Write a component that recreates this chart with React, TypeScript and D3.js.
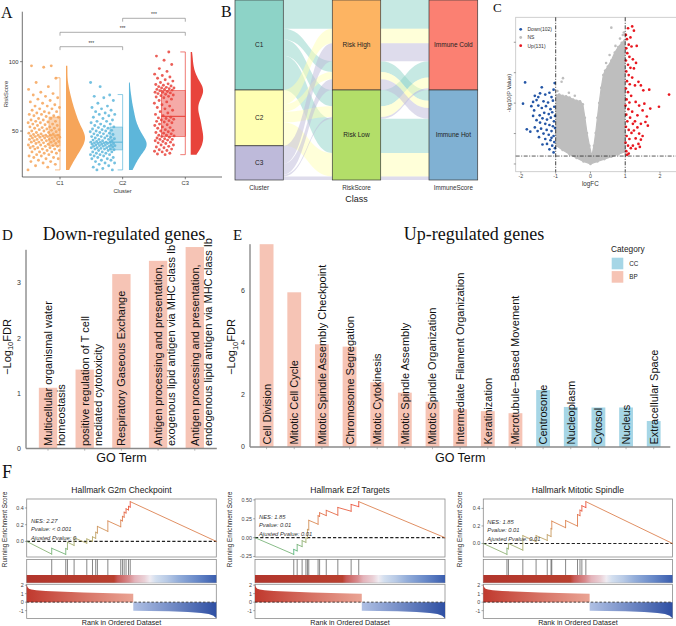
import React from 'react';
import * as d3 from 'd3';

const W = 676, H = 626;
const SANS = "'Liberation Sans', Arial, sans-serif";
const SERIF = "'Liberation Serif', 'Times New Roman', serif";

// ---------------- Panel A data ----------------
const clusters = ['C1', 'C2', 'C3'];
const riskC1 = [22, 24, 25, 26, 27, 28, 28, 29, 30, 30, 31, 31, 32, 32, 33, 33, 34, 34, 35, 35, 35, 36, 36, 37, 37, 37, 38, 38, 38, 39, 39, 39,
  39.5, 40, 40, 40.5, 41, 41, 41.5, 42, 42, 42, 42.5, 43, 43, 43, 43.5, 44, 44, 44, 44.5, 45, 45, 45, 45.5, 45.5, 46, 46, 46, 46.5, 46.5, 47, 47, 47, 47,
  47.5, 48, 48, 48.5, 49, 49, 49.5, 50, 50, 50.5, 51, 51, 51.5, 52, 52, 52.5, 53, 53, 54, 54, 54.5, 55, 55, 56, 56, 56.5, 57, 57, 58, 58, 59, 59, 60,
  60.5, 61, 61, 62, 62, 63, 63, 64, 64, 65, 66, 66, 67, 68, 68, 69, 70, 71, 72, 73, 74, 75, 76, 77, 78, 80, 82, 85, 88, 96, 97, 97];
const riskC2 = [22, 22, 23, 24, 25, 26, 27, 27, 28, 29, 29, 30, 30, 31, 31, 32, 32, 33, 33, 33, 34, 34, 35, 35, 35, 36, 36,
  36.5, 37, 37, 37, 37.5, 38, 38, 38, 38.5, 39, 39, 39, 39.5, 39.5, 40, 40, 40, 40.5, 40.5, 41, 41, 41, 41.5, 41.5, 42, 42, 42, 42,
  42.5, 43, 43, 43.5, 44, 44, 44.5, 45, 45, 45.5, 46, 46, 46.5, 47, 47.5, 48, 48, 48.5, 49, 49.5, 50, 50, 50.5, 51, 51.5, 52, 52.5,
  53, 53.5, 54, 55, 55, 56, 57, 57, 58, 59, 60, 61, 62, 62, 63, 64, 65, 66, 67, 68, 70, 72, 74, 75, 76, 82, 85];
const riskC3 = [33, 33.5, 34, 35, 35.5, 36, 36.5, 37, 38, 38.5, 39, 40, 40, 41, 41.5, 42, 42.5, 43, 43.5, 44, 44, 44.5, 45, 45.5, 46,
  46.5, 47, 47, 48, 48.5, 49, 49.5, 50, 50.5, 51, 52, 52.5, 53, 54, 54.5, 55, 56, 56.5, 57, 57.5, 58, 58.5, 59, 59.5, 60,
  61, 62, 63, 64, 65, 66, 67, 68, 69, 70, 71, 72, 73, 74, 74.5, 75, 75.5, 76, 76.5, 77, 77.5, 78, 78, 78.5, 79,
  79.5, 80, 80, 80.5, 81, 81, 81.5, 82, 82.5, 83, 83.5, 84, 85, 86, 87, 88, 89, 90, 91, 93, 95, 98, 101, 104, 107];
const riskBox = [
  { q1: 39.3, med: 47.1, q3: 60.1, lo: 22, hi: 88.4 },
  { q1: 36.4, med: 42.0, q3: 52.9, lo: 22, hi: 76.3 },
  { q1: 46.1, med: 60.6, q3: 79.2, lo: 33, hi: 107 },
];
const riskTicks = [50, 100];
const sigPairs = [['C1', 'C2'], ['C1', 'C3'], ['C2', 'C3']];
const sigLabels = ['***', '***', '***'];

// ---------------- Panel B data ----------------
const clusterLevels = ['C1', 'C2', 'C3'];
const riskLevels = ['Risk High', 'Risk Low'];
const immuneLevels = ['Immune Cold', 'Immune Hot'];
const alluvCluster = ['C1', 'C1', 'C1', 'C1', 'C2', 'C2', 'C2', 'C2', 'C3', 'C3', 'C3', 'C3'];
const alluvRisk = ['Risk High', 'Risk High', 'Risk Low', 'Risk Low', 'Risk High', 'Risk High', 'Risk Low', 'Risk Low', 'Risk High', 'Risk High', 'Risk Low', 'Risk Low'];
const alluvImmune = ['Immune Cold', 'Immune Hot', 'Immune Cold', 'Immune Hot', 'Immune Cold', 'Immune Hot', 'Immune Cold', 'Immune Hot', 'Immune Cold', 'Immune Hot', 'Immune Cold', 'Immune Hot'];
const alluvCount = [16, 6, 9, 19, 8, 4, 6, 13, 10, 6, 1, 2];
const alluvAxes = ['Cluster', 'RiskScore', 'ImmuneScore'];

// ---------------- Panel C data ----------------
const upGenes = [[1.02, 21.2], [1.08, 22.3], [1.2, 22.6], [1.25, 21.9], [1.05, 20.5], [1.15, 20.8], [1.1, 19.6], [1.03, 19.0], [1.18, 19.3], [1.06, 18.2], [1.12, 17.6], [1.02, 17.0], [1.22, 17.2], [1.08, 16.3], [1.15, 15.8], [1.03, 15.2], [1.1, 14.6], [1.2, 14.2], [1.05, 13.6], [1.13, 13.1], [1.02, 12.4], [1.08, 11.8], [1.17, 11.2], [1.04, 10.6], [1.12, 10.1], [1.01, 9.6], [1.09, 9.0], [1.2, 8.6], [1.03, 8.1], [1.14, 7.6], [1.06, 7.0], [1.22, 6.6], [1.02, 6.1], [1.1, 5.6], [1.18, 5.1], [1.04, 4.6], [1.12, 4.1], [1.01, 3.5], [1.08, 3.0], [1.16, 2.6], [1.03, 2.1], [1.1, 1.7], [1.05, 1.5],
  [1.31, 16.6], [1.33, 19.4], [1.25, 15.7], [1.28, 12.9], [1.38, 13.5], [1.45, 12.9], [1.52, 12.1], [1.69, 12.2], [2.26, 11.4], [1.3, 10.2], [1.4, 9.6], [1.55, 9.9], [1.5, 8.8], [1.72, 9.1], [1.97, 9.4], [1.35, 8.0], [1.62, 7.8], [1.28, 7.0], [1.45, 6.6], [1.58, 6.9], [1.35, 6.0], [1.65, 6.3], [1.25, 5.5], [1.4, 5.0], [1.5, 4.6], [1.3, 4.2], [1.45, 4.0], [1.38, 3.3], [1.22, 3.0], [1.3, 2.5], [1.42, 2.8]];
const downGenes = [[-1.88, 13.4], [-1.94, 9.9], [-1.83, 5.7], [-1.73, 5.3], [-1.4, 12.6], [-1.03, 13.3], [-1.06, 12.2], [-1.6, 11.2], [-1.5, 11.0], [-1.45, 11.6], [-1.3, 11.4], [-1.18, 11.7], [-1.12, 11.0], [-1.65, 10.2], [-1.55, 10.5], [-1.35, 10.3], [-1.22, 10.1], [-1.08, 10.4], [-1.5, 9.6], [-1.4, 9.2], [-1.28, 9.5], [-1.15, 9.0], [-1.04, 9.4], [-1.62, 8.8], [-1.33, 8.4], [-1.2, 8.2], [-1.1, 8.5], [-1.46, 8.0], [-1.02, 7.9], [-1.38, 7.5], [-1.25, 7.3], [-1.14, 7.6], [-1.05, 7.0], [-1.55, 7.2], [-1.45, 6.8], [-1.3, 6.6], [-1.18, 6.4], [-1.08, 6.2], [-1.6, 6.0], [-1.42, 5.8], [-1.26, 5.6], [-1.12, 5.4], [-1.02, 5.9], [-1.35, 5.0], [-1.2, 4.8], [-1.06, 4.6], [-1.48, 4.4], [-1.3, 4.1], [-1.15, 3.9], [-1.04, 3.6], [-1.25, 3.3], [-1.1, 3.0], [-1.38, 3.2], [-1.02, 2.6], [-1.18, 2.4], [-1.06, 1.9], [-1.12, 4.3], [-1.52, 5.4], [-1.65, 7.9], [-1.7, 9.5]];
const nsHull = [[0.0, 0.0], [0.2, 0.4], [0.4, 0.8], [0.6, 1.2], [0.8, 1.6], [0.99, 2.0], [0.99, 5], [0.98, 8], [0.99, 11], [0.98, 14], [0.99, 17], [0.98, 20.3],
  [0.9, 19.9], [0.8, 19.2], [0.7, 18.3], [0.6, 17.0], [0.5, 16.0], [0.42, 15.3], [0.37, 14.6], [0.31, 12.5], [0.25, 10.0], [0.2, 7.6], [0.15, 5.1], [0.1, 3.0], [0.04, 1.3],
  [-0.03, 3.0], [-0.1, 5.1], [-0.16, 7.6], [-0.22, 9.8], [-0.3, 10.3], [-0.4, 10.4], [-0.5, 10.6], [-0.6, 10.9], [-0.7, 11.1], [-0.8, 11.2], [-0.9, 11.4], [-0.98, 11.3],
  [-0.99, 9], [-0.98, 7], [-0.99, 5], [-0.98, 3.0], [-0.8, 2.3], [-0.6, 1.6], [-0.4, 1.0], [-0.2, 0.4]];
const nsExtra = [[0.6, 22.4], [-0.79, 14.1], [-0.83, 13.5], [0.93, 21.2], [0.85, 20.6], [0.96, 21.6], [0.72, 19.4], [-0.62, 11.7], [-0.45, 11.2], [0.55, 17.9], [0.45, 16.6], [-0.95, 12.0]];
const volcanoXTicks = [-2, -1, 0, 1, 2];
const volcanoYTicks = [0, 5, 10, 15, 20];
const volcanoLegend = ['Down(102)', 'NS', 'Up(131)'];

// ---------------- Panel D / E data ----------------
const downTerms = ['Multicellular organismal water\nhomeostasis', 'positive regulation of T cell\nmediated cytotoxicity', 'Respiratory Gaseous Exchange',
  'Antigen processing and presentation,\nexogenous lipid antigen via MHC class Ib', 'Antigen processing and presentation,\nendogenous lipid antigen via MHC class Ib'];
const downFDR = [1.1, 1.43, 3.16, 3.4, 3.65];
const downCat = ['BP', 'BP', 'BP', 'BP', 'BP'];
const downTicks = [0, 1, 2, 3];
const upTerms = ['Cell Division', 'Mitotic Cell Cycle', 'Mitotic Spindle Assembly Checkpoint', 'Chromosome Segregation', 'Mitotic Cytokinesis', 'Mitotic Spindle Assembly',
  'Mitotic Spindle Organization', 'Intermediate Filament Organization', 'Keratinization', 'Microtubule\u2212Based Movement', 'Centrosome', 'Nucleoplasm', 'Cytosol', 'Nucleus', 'Extracellular Space'];
const upFDR = [7.8, 5.95, 3.95, 3.86, 2.49, 2.09, 1.74, 1.45, 1.38, 1.3, 2.19, 1.54, 1.52, 1.52, 1.0];
const upCat = ['BP', 'BP', 'BP', 'BP', 'BP', 'BP', 'BP', 'BP', 'BP', 'BP', 'CC', 'CC', 'CC', 'CC', 'CC'];
const upTicks = [0, 2, 4, 6];
const categoryLevels = ['CC', 'BP'];

// ---------------- Panel F data ----------------
const gseaTitles = ['Hallmark G2m Checkpoint', 'Hallmark E2f Targets', 'Hallmark Mitotic Spindle'];
const gseaStats = [['NES: 2.27', 'Pvalue: < 0.001', 'Ajusted Pvalue: 0.'], ['NES: 1.85', 'Pvalue: 0.01', 'Ajusted Pvalue: 0.01'], ['NES: 1.85', 'Pvalue: 0.01', 'Ajusted Pvalue: 0.01']];
const g2mCurve = [[0, 0], [0.132, -0.152], [0.132, -0.082], [0.206, -0.155], [0.206, -0.085], [0.215, -0.095], [0.215, -0.01], [0.25, -0.048], [0.25, 0.045], [0.317, -0.022], [0.317, 0.03], [0.347, 0.0], [0.347, 0.055], [0.364, 0.037], [0.364, 0.11], [0.373, 0.1], [0.373, 0.18], [0.428, 0.12], [0.428, 0.245], [0.496, 0.175], [0.496, 0.255], [0.505, 0.245], [0.505, 0.3], [0.514, 0.29], [0.514, 0.35], [0.524, 0.34], [0.524, 0.39], [0.537, 0.376], [0.537, 0.42], [0.546, 0.41], [0.546, 0.476], [1, 0]];
const e2fCurve = [[0, 0], [0.204, -0.221], [0.204, -0.155], [0.222, -0.175], [0.222, -0.09], [0.248, -0.118], [0.248, -0.04], [0.268, -0.062], [0.268, 0.0], [0.276, -0.009], [0.276, 0.11], [0.283, 0.102], [0.283, 0.23], [0.332, 0.178], [0.332, 0.29], [0.34, 0.281], [0.34, 0.33], [0.375, 0.292], [0.375, 0.362], [0.436, 0.298], [0.436, 0.4], [0.506, 0.35], [0.506, 0.44], [0.546, 0.41], [0.546, 0.477], [1, 0]];
const spindleCurve = [[0, 0], [0.125, -0.124], [0.125, -0.054], [0.133, -0.062], [0.133, 0.0], [0.209, -0.076], [0.209, 0.09], [0.279, 0.02], [0.279, 0.09], [0.338, 0.035], [0.338, 0.1], [0.358, 0.08], [0.358, 0.17], [0.362, 0.166], [0.362, 0.255], [0.435, 0.18], [0.435, 0.262], [0.498, 0.198], [0.498, 0.33], [0.511, 0.317], [0.511, 0.38], [0.521, 0.37], [0.521, 0.43], [0.542, 0.41], [0.542, 0.477], [1, 0]];
const g2mHits = [0.132, 0.206, 0.215, 0.25, 0.317, 0.347, 0.364, 0.373, 0.428, 0.496, 0.505, 0.514, 0.524, 0.537, 0.546];
const e2fHits = [0.204, 0.222, 0.248, 0.268, 0.276, 0.283, 0.332, 0.34, 0.375, 0.436, 0.506, 0.546];
const spindleHits = [0.125, 0.133, 0.209, 0.279, 0.338, 0.358, 0.362, 0.435, 0.498, 0.511, 0.521, 0.542];
const esTicks = [[0, 0.2, 0.4], [-0.25, 0, 0.25, 0.5], [0, 0.2, 0.4]];
const esTickDigits = [1, 2, 1];
const rankedMetric = [[0, 2.1], [0.004, 1.78], [0.012, 1.58], [0.025, 1.48], [0.05, 1.4], [0.1, 1.32], [0.2, 1.22], [0.3, 1.15], [0.4, 1.09], [0.5, 1.03], [0.562, 1.0],
  [0.5621, -1.0], [0.65, -1.03], [0.75, -1.08], [0.85, -1.16], [0.92, -1.27], [0.96, -1.4], [0.985, -1.6], [1, -1.9]];
const rankTicks = [-1, 0, 1, 2];

// ================= Panel A =================
function PanelA() {
  const x = d3.scalePoint().domain(clusters).range([60, 185.3]);
  const y = d3.scaleLinear().domain([16.9, 136]).range([177, 11.7]);
  const groups = [riskC1, riskC2, riskC3];
  const cols = ['#F6A55A', '#5DB6DA', '#E8433B'];
  const jit = [{ c: -16, h: 16 }, { c: -20, h: 12.5 }, { c: -21, h: 10 }];
  const boxW = [11, 12.7, 24];
  const vio = [{ s: 6, w: 19, bw: 5.5 }, { s: 6.3, w: 17.7, bw: 4.5 }, { s: 5.4, w: 12.5, bw: 5 }];
  const bracketY = [46.7, 32.3, 18.3];
  return (
    <g>
      {groups.map((vals, gi) => {
        const cx = x(clusters[gi]) as number;
        const [lo, hi] = d3.extent(vals) as [number, number];
        const grid = d3.range(0, 81).map(i => lo + (hi - lo) * i / 80);
        const dens = grid.map(t => [t, d3.mean(vals, v => Math.exp(-0.5 * ((t - v) / vio[gi].bw) ** 2)) as number]);
        const mx = d3.max(dens, d => d[1]) as number;
        const xs = cx + vio[gi].s;
        const area = d3.area<number[]>().y(d => y(d[0])).x0(xs).x1(d => xs + vio[gi].w * d[1] / mx).curve(d3.curveBasis);
        const b = riskBox[gi];
        const col = cols[gi];
        return (
          <g key={gi}>
            {vals.map((v, i) => {
              const u = (i * 0.6180339887 + 0.27 * gi) % 1;
              return <circle key={i} cx={cx + jit[gi].c + (2 * u - 1) * jit[gi].h} cy={y(v)} r={1.45} fill={col} fillOpacity={0.85} />;
            })}
            <rect x={cx - boxW[gi]} y={y(b.q3)} width={boxW[gi]} height={y(b.q1) - y(b.q3)} fill={col} fillOpacity={0.45} stroke={col} strokeWidth={0.6} />
            <line x1={cx - boxW[gi]} x2={cx} y1={y(b.med)} y2={y(b.med)} stroke={col} strokeWidth={1.1} />
            <line x1={cx} x2={cx} y1={y(b.hi)} y2={y(b.lo)} stroke={col} strokeWidth={0.7} />
            <line x1={cx - 5} x2={cx} y1={y(b.hi)} y2={y(b.hi)} stroke={col} strokeWidth={0.7} />
            <line x1={cx - 5} x2={cx} y1={y(b.lo)} y2={y(b.lo)} stroke={col} strokeWidth={0.7} />
            <path d={area(dens) as string} fill={col} />
          </g>
        );
      })}
      {sigPairs.map((p, i) => {
        const a = x(p[0]) as number, c = x(p[1]) as number, yy = bracketY[i];
        return (
          <g key={i}>
            <path d={`M${a},${yy + 3.4}V${yy}H${c}V${yy + 3.4}`} fill="none" stroke="#8a8a8a" strokeWidth={0.7} />
            <text x={(a + c) / 2} y={yy - 2.2} fontSize={5} textAnchor="middle" fill="#333">{sigLabels[i]}</text>
          </g>
        );
      })}
      <line x1={22.3} x2={22.3} y1={11.7} y2={177} stroke="#333" strokeWidth={0.7} />
      <line x1={22.3} x2={222} y1={177} y2={177} stroke="#333" strokeWidth={0.7} />
      {riskTicks.map(t => (
        <g key={t}>
          <line x1={20} x2={22.3} y1={y(t)} y2={y(t)} stroke="#333" strokeWidth={0.6} />
          <text x={18.5} y={y(t) + 2} fontSize={5.8} textAnchor="end" fill="#333">{t}</text>
        </g>
      ))}
      {clusters.map(c => (
        <g key={c}>
          <line x1={x(c) as number} x2={x(c) as number} y1={177} y2={179.3} stroke="#333" strokeWidth={0.6} />
          <text x={x(c) as number} y={185} fontSize={5.8} textAnchor="middle" fill="#333">{c}</text>
        </g>
      ))}
      <text x={122.6} y={192.5} fontSize={5.8} textAnchor="middle" fill="#333">Cluster</text>
      <text transform="translate(7.5,94) rotate(-90)" fontSize={5.8} textAnchor="middle" fill="#333">RiskScore</text>
    </g>
  );
}

// ================= Panel B =================
const stratumColor: Record<string, string> = {
  C1: '#8DD3C7', C2: '#FFFFB3', C3: '#BEBADA', 'Risk High': '#FDB462', 'Risk Low': '#B3DE69', 'Immune Cold': '#FB8072', 'Immune Hot': '#80B1D3',
};
function PanelB() {
  const y = d3.scaleLinear().domain([0, d3.sum(alluvCount)]).range([0, 180]);
  const cols = [[235, 283.3], [332.3, 380.7], [429, 477.7]];
  const levels = [clusterLevels, riskLevels, immuneLevels];
  const keys = alluvCount.map((_, i) => [alluvCluster[i], alluvRisk[i], alluvImmune[i]]);
  const idx = (ax: number, i: number) => levels[ax].indexOf(keys[i][ax]);
  const orders = [
    d3.range(alluvCount.length).sort((a, b) => idx(0, a) - idx(0, b) || idx(1, a) - idx(1, b) || idx(2, a) - idx(2, b)),
    d3.range(alluvCount.length).sort((a, b) => idx(1, a) - idx(1, b) || idx(2, a) - idx(2, b) || idx(0, a) - idx(0, b)),
    d3.range(alluvCount.length).sort((a, b) => idx(2, a) - idx(2, b) || idx(1, a) - idx(1, b) || idx(0, a) - idx(0, b)),
  ];
  const pos = orders.map(ord => {
    const p: number[][] = [];
    let acc = 0;
    ord.forEach(i => { p[i] = [acc, acc + alluvCount[i]]; acc += alluvCount[i]; });
    return p;
  });
  const flows: JSX.Element[] = [];
  for (let g = 0; g < 2; g++) {
    const xa = cols[g][1], xb = cols[g + 1][0], xm = (xa + xb) / 2;
    alluvCount.forEach((_, i) => {
      const [a0, a1] = pos[g][i].map(v => y(v));
      const [b0, b1] = pos[g + 1][i].map(v => y(v));
      const d = `M${xa},${a0}C${xm},${a0} ${xm},${b0} ${xb},${b0}L${xb},${b1}C${xm},${b1} ${xm},${a1} ${xa},${a1}Z`;
      flows.push(<path key={`${g}-${i}`} d={d} fill={stratumColor[alluvCluster[i]]} fillOpacity={0.5} />);
    });
  }
  return (
    <g>
      {flows}
      {levels.map((lv, ax) => {
        let acc = 0;
        return lv.map(s => {
          const n = d3.sum(alluvCount.filter((_, i) => keys[i][ax] === s));
          const y0 = y(acc), y1 = y(acc + n);
          acc += n;
          return (
            <g key={s}>
              <rect x={cols[ax][0]} y={y0} width={cols[ax][1] - cols[ax][0]} height={y1 - y0} fill={stratumColor[s]} stroke="#3a3a3a" strokeWidth={0.7} />
              <text x={(cols[ax][0] + cols[ax][1]) / 2} y={(y0 + y1) / 2 + 2.3} fontSize={6.5} textAnchor="middle" fill="#222">{s}</text>
            </g>
          );
        });
      })}
      {alluvAxes.map((a, i) => (
        <text key={a} x={(cols[i][0] + cols[i][1]) / 2} y={190.3} fontSize={6.3} textAnchor="middle" fill="#333">{a}</text>
      ))}
      <text x={356.5} y={201.5} fontSize={9} textAnchor="middle" fill="#222">Class</text>
    </g>
  );
}

// ================= Panel C =================
function PanelC() {
  const x = d3.scaleLinear().domain([-2.15, 2.46]).range([515.7, 676]);
  const y = d3.scaleLinear().domain([-1.27, 24.1]).range([171.7, 17.3]);
  const hull = d3.line<number[]>().x(d => x(d[0])).y(d => y(d[1])).curve(d3.curveLinearClosed);
  const grey = '#BEBEBE', blue = '#2456A6', red = '#E8171F';
  const legCols = [blue, grey, red];
  return (
    <g>
      <rect x={515.7} y={17.3} width={165} height={154.4} fill="none" stroke="#c4c4c4" strokeWidth={0.8} />
      <path d={hull(nsHull) as string} fill={grey} stroke={grey} strokeWidth={1.2} />
      {nsHull.concat(nsExtra).map((p, i) => <circle key={'n' + i} cx={x(p[0])} cy={y(p[1])} r={1.3} fill={grey} />)}
      {downGenes.map((p, i) => <circle key={'d' + i} cx={x(p[0])} cy={y(p[1])} r={1.35} fill={blue} />)}
      {upGenes.map((p, i) => <circle key={'u' + i} cx={x(p[0])} cy={y(p[1])} r={1.35} fill={red} />)}
      {[-1, 1].map(v => <line key={v} x1={x(v)} x2={x(v)} y1={17.3} y2={171.7} stroke="#111" strokeWidth={0.8} strokeDasharray="4,1.5,1,1.5" />)}
      <line x1={515.7} x2={676} y1={y(1.3)} y2={y(1.3)} stroke="#111" strokeWidth={0.7} strokeDasharray="4,1.5,1,1.5" />
      {volcanoYTicks.map(t => <line key={t} x1={513.8} x2={515.7} y1={y(t)} y2={y(t)} stroke="#555" strokeWidth={0.6} />)}
      {volcanoXTicks.map(t => (
        <g key={t}>
          <line x1={x(t)} x2={x(t)} y1={171.7} y2={173.5} stroke="#555" strokeWidth={0.6} />
          <text x={x(t)} y={178.2} fontSize={5.3} textAnchor="middle" fill="#444">{t}</text>
        </g>
      ))}
      <text x={590.3} y={185.5} fontSize={6.3} textAnchor="middle" fill="#333">logFC</text>
      <text transform="translate(511.3,93) rotate(-90)" fontSize={5.6} textAnchor="middle" fill="#333">-log10(P Value)</text>
      {volcanoLegend.map((l, i) => (
        <g key={l}>
          <circle cx={520.7} cy={29.3 + i * 8.2} r={1.4} fill={legCols[i]} />
          <text x={527.5} y={31.1 + i * 8.2} fontSize={5} fill="#333">{l}</text>
        </g>
      ))}
    </g>
  );
}

// ================= Panels D / E =================
const catColor: Record<string, string> = { BP: '#F6C4B5', CC: '#A6D6E6' };
function GoPanel(props: { terms: string[]; vals: number[]; cats: string[]; ticks: number[]; xr: number[]; yd: number[]; yr: number[]; title: string; titleX: number; ylabX: number }) {
  const { terms, vals, cats, ticks, xr, yd, yr, title, titleX, ylabX } = props;
  const x = d3.scaleBand().domain(terms).range(xr as [number, number]).paddingInner(0.5).paddingOuter(0.35);
  const y = d3.scaleLinear().domain(yd).range(yr);
  const y0 = y(0);
  return (
    <g>
      <text x={titleX} y={240} fontFamily={SERIF} fontSize={18} textAnchor="middle" fill="#111">{title}</text>
      {terms.map((t, i) => {
        const bx = x(t) as number, cx = bx + x.bandwidth() / 2;
        return (
          <g key={t}>
            <rect x={bx} y={y(vals[i])} width={x.bandwidth()} height={y0 - y(vals[i])} fill={catColor[cats[i]]} />
            {t.split('\n').map((line, li) => (
              <text key={li} transform={`translate(${cx + 4 + li * 12.8},${y0 - 2.5}) rotate(-90)`} fontSize={11} fill="#111">{line}</text>
            ))}
            <line x1={cx} x2={cx} y1={y0} y2={y0 + 2.2} stroke="#888" strokeWidth={0.6} />
          </g>
        );
      })}
      <line x1={xr[0]} x2={xr[0]} y1={yr[1]} y2={y0} stroke="#333" strokeWidth={0.8} />
      <line x1={xr[0]} x2={xr[1]} y1={y0} y2={y0} stroke="#8a8a8a" strokeWidth={1.3} />
      {ticks.map(t => (
        <text key={t} x={xr[0] - 5} y={y(t) + 2.4} fontSize={7} textAnchor="end" fill="#333">{t}</text>
      ))}
      <text x={(xr[0] + xr[1]) / 2} y={461.5} fontSize={12.5} textAnchor="middle" fill="#111">GO Term</text>
      <text transform={`translate(${ylabX},347) rotate(-90)`} fontSize={11} textAnchor="middle" fill="#111">
        {'\u2212Log'}<tspan fontSize={7.5} dy={2.5}>10</tspan><tspan dy={-2.5}>FDR</tspan>
      </text>
    </g>
  );
}

// ================= Panel F =================
const barStops: [number, string][] = [[0, '#B2352C'], [0.46, '#B9402F'], [0.48, '#C85B58'], [0.54, '#D98C8F'], [0.57, '#E4B3BA'], [0.62, '#EAD0D6'], [0.65, '#F0ECF2'], [0.68, '#D3DFEF'], [0.74, '#B8CAE6'], [0.8, '#94AEDA'], [0.9, '#6788C8'], [1, '#3A5DAE']];
function GseaPlot(props: { i: number; x0: number; x1: number; statX: number; statY: number; ylabX: number; curve: number[][]; hits: number[] }) {
  const { i, x0, x1, statX, statY, ylabX, curve, hits } = props;
  const x = d3.scaleLinear().domain([0, 1]).range([x0, x1]);
  const ext = d3.extent(curve, d => d[1]) as [number, number];
  const pad = (ext[1] - ext[0]) * 0.05;
  const y = d3.scaleLinear().domain([ext[0] - pad, ext[1] + pad]).range([557, 499]);
  const ry = d3.scaleLinear().domain(d3.extent(rankedMetric, d => d[1]) as [number, number]).range([618.3, 584.3]);
  const esCol = d3.scaleLinear<string>().domain([-0.2, 0, 0.2, 0.48]).range(['#4FB883', '#B0AE6E', '#DA8B55', '#F0483A']);
  const pos = rankedMetric.filter(d => d[1] >= 0);
  const neg = rankedMetric.filter(d => d[1] < 0);
  const area = d3.area<number[]>().x(d => x(d[0])).y0(ry(0)).y1(d => ry(d[1]));
  const cut = pos[pos.length - 1][0];
  const digits = esTickDigits[i];
  return (
    <g>
      <defs>
        <linearGradient id={`bar${i}`} x1="0" x2="1" y1="0" y2="0">
          {barStops.map((s, k) => <stop key={k} offset={s[0]} stopColor={s[1]} />)}
        </linearGradient>
        <linearGradient id={`pos${i}`} gradientUnits="userSpaceOnUse" x1={x(0)} x2={x(cut)} y1="0" y2="0">
          <stop offset="0" stopColor="#C0392E" />
          <stop offset="1" stopColor="#EAA494" />
        </linearGradient>
        <linearGradient id={`neg${i}`} gradientUnits="userSpaceOnUse" x1={x(cut)} x2={x(1)} y1="0" y2="0">
          <stop offset="0" stopColor="#AFC0E4" />
          <stop offset="1" stopColor="#2E4FA3" />
        </linearGradient>
      </defs>
      <text x={(x0 + x1) / 2} y={493.3} fontSize={8.6} textAnchor="middle" fill="#222">{gseaTitles[i]}</text>
      <rect x={x0} y={499} width={x1 - x0} height={58} fill="#fff" stroke="#8c8c8c" strokeWidth={0.8} />
      <line x1={x0} x2={x1} y1={y(0)} y2={y(0)} stroke="#222" strokeWidth={1.1} strokeDasharray="3.2,2" />
      {curve.slice(1).map((p, k) => {
        const q = curve[k];
        return <line key={k} x1={x(q[0])} y1={y(q[1])} x2={x(p[0])} y2={y(p[1])} stroke={esCol((p[1] + q[1]) / 2)} strokeWidth={0.9} strokeLinecap="round" />;
      })}
      {esTicks[i].map(t => (
        <g key={t}>
          <line x1={x0 - 1.8} x2={x0} y1={y(t)} y2={y(t)} stroke="#555" strokeWidth={0.5} />
          <text x={x0 - 3} y={y(t) + 1.9} fontSize={5.4} textAnchor="end" fill="#444">{t.toFixed(digits)}</text>
        </g>
      ))}
      {gseaStats[i].map((s, k) => (
        <text key={k} x={statX} y={statY + k * 8.5 + 2} fontSize={5.8} fontStyle="italic" fill="#333">{s}</text>
      ))}
      <rect x={x0} y={559.5} width={x1 - x0} height={23.2} fill="#fff" stroke="#8c8c8c" strokeWidth={0.8} />
      <rect x={x0} y={575} width={x1 - x0} height={7.7} fill={`url(#bar${i})`} />
      {hits.map((h, k) => <line key={k} x1={x(h)} x2={x(h)} y1={559.5} y2={575} stroke="#222" strokeWidth={0.55} />)}
      <rect x={x0} y={584.3} width={x1 - x0} height={34.2} fill="#fff" stroke="#8c8c8c" strokeWidth={0.8} />
      <path d={area(pos) as string} fill={`url(#pos${i})`} />
      <path d={area(neg) as string} fill={`url(#neg${i})`} />
      <line x1={x0} x2={x1} y1={ry(0)} y2={ry(0)} stroke="#222" strokeWidth={0.8} strokeDasharray="2.5,1.8" />
      {rankTicks.map(t => (
        <g key={t}>
          <line x1={x0 - 1.8} x2={x0} y1={ry(t)} y2={ry(t)} stroke="#555" strokeWidth={0.5} />
          <text x={x0 - 3} y={ry(t) + 1.9} fontSize={5.4} textAnchor="end" fill="#444">{t}</text>
        </g>
      ))}
      <text x={(x0 + x1) / 2} y={624.5} fontSize={7.2} textAnchor="middle" fill="#222">Rank in Ordered Dataset</text>
      <text transform={`translate(${ylabX},529.5) rotate(-90)`} fontSize={6.3} textAnchor="middle" fill="#222">Running Enrichment Score</text>
    </g>
  );
}

function PanelF() {
  const layout = [
    { x0: 26.7, x1: 216.3, statX: 31, statY: 520.7, ylabX: 6.5 },
    { x0: 255, x1: 445, statX: 259, statY: 516.7, ylabX: 232 },
    { x0: 483.3, x1: 672.5, statX: 487.3, statY: 521.7, ylabX: 462 },
  ];
  const curves = [g2mCurve, e2fCurve, spindleCurve];
  const hits = [g2mHits, e2fHits, spindleHits];
  return <g>{layout.map((l, i) => <GseaPlot key={i} i={i} {...l} curve={curves[i]} hits={hits[i]} />)}</g>;
}

export default function App() {
  return (
    <svg width={W} height={H} viewBox={`0 0 ${W} ${H}`} style={{ position: 'absolute', left: 0, top: 0, background: '#fff' }} fontFamily={SANS}>
      <rect width={W} height={H} fill="#fff" />
      <PanelB />
      <PanelA />
      <PanelC />
      <GoPanel terms={downTerms} vals={downFDR} cats={downCat} ticks={downTicks} xr={[26, 216.8]} yd={[0, 3.6]} yr={[448.5, 249.8]} title="Down-regulated genes" titleX={124} ylabX={10.5} />
      <GoPanel terms={upTerms} vals={upFDR} cats={upCat} ticks={upTicks} xr={[250, 670.3]} yd={[0, 7.8]} yr={[447, 244.2]} title="Up-regulated genes" titleX={474} ylabX={235} />
      <g>
        <text x={611} y={252} fontSize={8.3} fill="#222">Category</text>
        {categoryLevels.map((c, i) => (
          <g key={c}>
            <rect x={611.7} y={257.7 + i * 13.4} width={11.6} height={11.6} fill={catColor[c]} />
            <text x={629.3} y={265.8 + i * 13.4} fontSize={6.3} fill="#222">{c}</text>
          </g>
        ))}
      </g>
      <PanelF />
      <g fontFamily={SERIF} fill="#111">
        <text x={1} y={18} fontSize={16}>A</text>
        <text x={221} y={17} fontSize={16}>B</text>
        <text x={493} y={12} fontSize={13}>C</text>
        <text x={2} y={240} fontSize={15}>D</text>
        <text x={233} y={240} fontSize={15}>E</text>
        <text x={2} y={478} fontSize={18}>F</text>
      </g>
    </svg>
  );
}
